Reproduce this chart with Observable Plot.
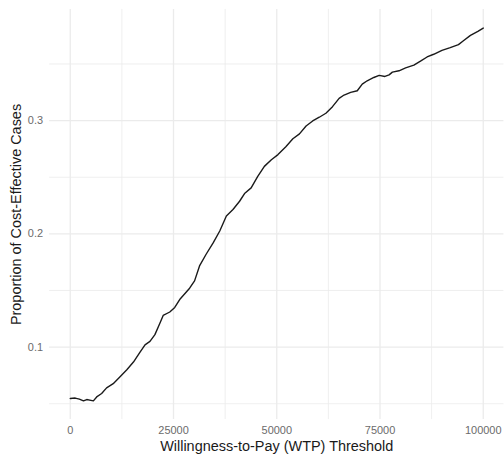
<!DOCTYPE html>
<html>
<head>
<meta charset="utf-8">
<script src="https://cdn.jsdelivr.net/npm/d3@7"></script>
<script src="https://cdn.jsdelivr.net/npm/@observablehq/plot@0.6"></script>
<style>
  html, body { margin: 0; padding: 0; background: #fff; overflow: hidden; }
  #chart { width: 504px; height: 458px; overflow: hidden; opacity: 0.999; }
</style>
</head>
<body>
<div id="chart"></div>
<script>
const wtp = [0, 1200, 2200, 3200, 4000, 5000, 5600, 6400, 7600, 8800, 10400, 12000, 13700, 15300, 16900, 18100, 19300, 20500, 21700, 22500, 24100, 25300, 26500, 28900, 30100, 31300, 32900, 34600, 36200, 37800, 39400, 41000, 42200, 43800, 45400, 47000, 48700, 50300, 52200, 53900, 55500, 57100, 58700, 60300, 61900, 63500, 65100, 66300, 67900, 69500, 70700, 71900, 73500, 74800, 76200, 77200, 78000, 79600, 81200, 83200, 84800, 86400, 88000, 90000, 92000, 94000, 95200, 96900, 98700, 100000];
const proportion = [0.0546, 0.0550, 0.0540, 0.0525, 0.0537, 0.0530, 0.0525, 0.0560, 0.0590, 0.0640, 0.0677, 0.0736, 0.0800, 0.0868, 0.0956, 0.1020, 0.1050, 0.1110, 0.1210, 0.1280, 0.1310, 0.1350, 0.1420, 0.1520, 0.1585, 0.1717, 0.1820, 0.1920, 0.2025, 0.2157, 0.2215, 0.2288, 0.2356, 0.2406, 0.2508, 0.2596, 0.2655, 0.2700, 0.2770, 0.2840, 0.2883, 0.2953, 0.2997, 0.3030, 0.3065, 0.3123, 0.3197, 0.3226, 0.3250, 0.3264, 0.3322, 0.3352, 0.3381, 0.3399, 0.3390, 0.3404, 0.3428, 0.3440, 0.3466, 0.3490, 0.3525, 0.3562, 0.3586, 0.3621, 0.3645, 0.3671, 0.3705, 0.3753, 0.3788, 0.3817];
const xMajorTicks = [0, 25000, 50000, 75000, 100000];
const xMinorTicks = [12500, 37500, 62500, 87500];
const yMajorTicks = [0.1, 0.2, 0.3];
const yMinorTicks = [0.05, 0.15, 0.25, 0.35];
const xTitle = "Willingness-to-Pay (WTP) Threshold";
const yTitle = "Proportion of Cost-Effective Cases";

const data = wtp.map((w, i) => ({wtp: w, p: proportion[i]}));

const xr = d3.extent(wtp), yr = d3.extent(proportion);
const xpad = (xr[1] - xr[0]) * 0.05, ypad = (yr[1] - yr[0]) * 0.05;

const chart = Plot.plot({
  width: 506,
  height: 458,
  marginTop: 9,
  marginBottom: 37.3,
  marginLeft: 49.3,
  marginRight: 0.6,
  style: {fontFamily: "'Liberation Sans', Arial, sans-serif", background: "#fff", color: "#1a1a1a"},
  x: {domain: [xr[0] - xpad, xr[1] + xpad]},
  y: {domain: [yr[0] - ypad, yr[1] + ypad]},
  marks: [
    Plot.ruleX(xMinorTicks, {stroke: "#ebebeb", strokeWidth: 0.8}),
    Plot.ruleY(yMinorTicks, {stroke: "#ebebeb", strokeWidth: 0.8}),
    Plot.ruleX(xMajorTicks, {stroke: "#ebebeb", strokeWidth: 1.3}),
    Plot.ruleY(yMajorTicks, {stroke: "#ebebeb", strokeWidth: 1.3}),
    Plot.axisX(xMajorTicks, {tickSize: 0, tickPadding: 7, tickFormat: d => String(d), fontSize: 11, fill: "#6b6b6b", label: null}),
    Plot.axisY(yMajorTicks, {tickSize: 0, tickPadding: 6.6, tickFormat: d => String(d), fontSize: 11, fill: "#6b6b6b", label: null}),
    Plot.line(data, {x: "wtp", y: "p", stroke: "#1a1a1a", strokeWidth: 1.4}),
    Plot.text([xTitle], {frameAnchor: "bottom", dy: 27.3, lineAnchor: "middle", textAnchor: "middle", fontSize: 14.5, fill: "#1a1a1a"}),
    Plot.text([yTitle], {frameAnchor: "left", dx: -33.3, rotate: -90, lineAnchor: "middle", textAnchor: "middle", fontSize: 14.5, fill: "#1a1a1a"})
  ]
});
document.getElementById("chart").appendChild(chart);
</script>
</body>
</html>
